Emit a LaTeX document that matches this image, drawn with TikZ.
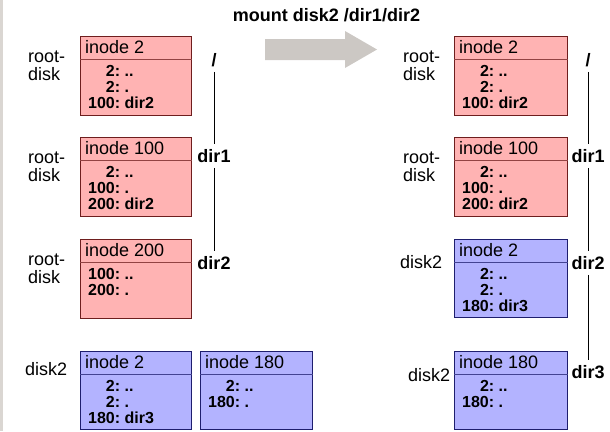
\documentclass[tikz,border=0pt]{standalone}
\usepackage{fontspec}
\setmainfont{Liberation Sans}

\definecolor{pinkfill}{HTML}{FFB3B3}
\definecolor{pinkline}{HTML}{6E1E1E}
\definecolor{bluefill}{HTML}{B3B3FF}
\definecolor{blueline}{HTML}{1E1E6E}
\definecolor{arrowgray}{HTML}{CCC8C4}
\definecolor{edgegray}{HTML}{DAD6D2}

% directory entries: inode number right-aligned, then the name
\newcommand\dirlist[1]{\begin{tabular}[t]{@{}r@{\ }l@{}}#1\end{tabular}}

% one inode: box, header rule, header text, entry list
\newcommand\inodebox[7]{%
  \node[#2box, minimum width=#5pt] (#1) at (#3,#4) {};
  \draw[#2div] ([yshift=-23.5pt]#1.north west) -- ([yshift=-23.5pt]#1.north east);
  \node[hdr] (#1h) at ([xshift=5pt,yshift=-17.5pt]#1.north west) {#6};
  \node[ents] (#1e) at ([xshift=8pt,yshift=-40.5pt]#1.north west) {\dirlist{#7}};
}

\begin{document}
\begin{tikzpicture}[x=1pt,y=-1pt,
  pinkbox/.style={draw=pinkline, fill=pinkfill, line width=1.2pt, anchor=north west,
    inner sep=0pt, minimum height=79pt},
  bluebox/.style={draw=blueline, fill=bluefill, line width=1.2pt, anchor=north west,
    inner sep=0pt, minimum height=78pt},
  pinkdiv/.style={draw=pinkline!75!pinkfill, line width=0.8pt},
  bluediv/.style={draw=blueline!75!bluefill, line width=0.8pt},
  hdr/.style={anchor=base west, inner sep=0pt, font=\fontsize{18}{18}\selectfont},
  ents/.style={anchor=base west, inner sep=0pt, font=\fontsize{16}{15.5}\selectfont\bfseries},
  disklbl/.style={anchor=base west, inner sep=0pt, font=\fontsize{18}{15}\selectfont},
  dirlbl/.style={inner sep=5pt, font=\fontsize{18}{18}\selectfont\bfseries},
  pathline/.style={line width=0.9pt},
  titletext/.style={anchor=base, inner sep=0pt, font=\fontsize{18}{18}\selectfont\bfseries}]

\useasboundingbox (0,0) rectangle (610,431);
\fill[edgegray] (0,0) rectangle (3,431);

% heading and the big arrow
\node[titletext] (title) at (326.5,21) {mount disk2 /dir1/dir2};
\fill[arrowgray] (265,39) -- (345,39) -- (345,31) -- (377,49.5) -- (345,68)
  -- (345,60) -- (265,60) -- cycle;

% ---------- before mounting ----------
\inodebox{L1}{pink}{80}{36}{111}{inode 2}{2: & ..\\ 2: & .\\ 100: & dir2}
\inodebox{L2}{pink}{80}{137}{111}{inode 100}{2: & ..\\ 100: & .\\ 200: & dir2}
\inodebox{L3}{pink}{80}{239}{111}{inode 200}{100: & ..\\ 200: & .}
\inodebox{L4}{blue}{80}{351}{111}{inode 2}{2: & ..\\ 2: & .\\ 180: & dir3}
\inodebox{L5}{blue}{200}{351}{112}{inode 180}{2: & ..\\ 180: & .}

\node[disklbl] (L1d) at (28,62.5) {\begin{tabular}[t]{@{}l@{}}root-\\disk\end{tabular}};
\node[disklbl] (L2d) at (28,163.5) {\begin{tabular}[t]{@{}l@{}}root-\\disk\end{tabular}};
\node[disklbl] (L3d) at (28,265.5) {\begin{tabular}[t]{@{}l@{}}root-\\disk\end{tabular}};
\node[disklbl] (L4d) at (25,375) {disk2};

\node[dirlbl] (Lroot) at (214,60) {/};
\node[dirlbl] (Ldir1) at (214,156) {dir1};
\node[dirlbl] (Ldir2) at (214,263) {dir2};
\draw[pathline] (Lroot) -- (Ldir1);
\draw[pathline] (Ldir1) -- (Ldir2);

% ---------- after mounting ----------
\inodebox{R1}{pink}{454}{36}{113}{inode 2}{2: & ..\\ 2: & .\\ 100: & dir2}
\inodebox{R2}{pink}{454}{137}{113}{inode 100}{2: & ..\\ 100: & .\\ 200: & dir2}
\inodebox{R3}{blue}{454}{239}{113}{inode 2}{2: & ..\\ 2: & .\\ 180: & dir3}
\inodebox{R4}{blue}{454}{351}{113}{inode 180}{2: & ..\\ 180: & .}

\node[disklbl] (R1d) at (403,62.5) {\begin{tabular}[t]{@{}l@{}}root-\\disk\end{tabular}};
\node[disklbl] (R2d) at (403,163.5) {\begin{tabular}[t]{@{}l@{}}root-\\disk\end{tabular}};
\node[disklbl] (R3d) at (400,268.5) {disk2};
\node[disklbl] (R4d) at (408,381.5) {disk2};

\node[dirlbl] (Rroot) at (588,60) {/};
\node[dirlbl] (Rdir1) at (588,156) {dir1};
\node[dirlbl] (Rdir2) at (588,263) {dir2};
\node[dirlbl] (Rdir3) at (588,372) {dir3};
\draw[pathline] (Rroot) -- (Rdir1);
\draw[pathline] (Rdir1) -- (Rdir2);
\draw[pathline] (Rdir2) -- (Rdir3);
\end{tikzpicture}
\end{document}
